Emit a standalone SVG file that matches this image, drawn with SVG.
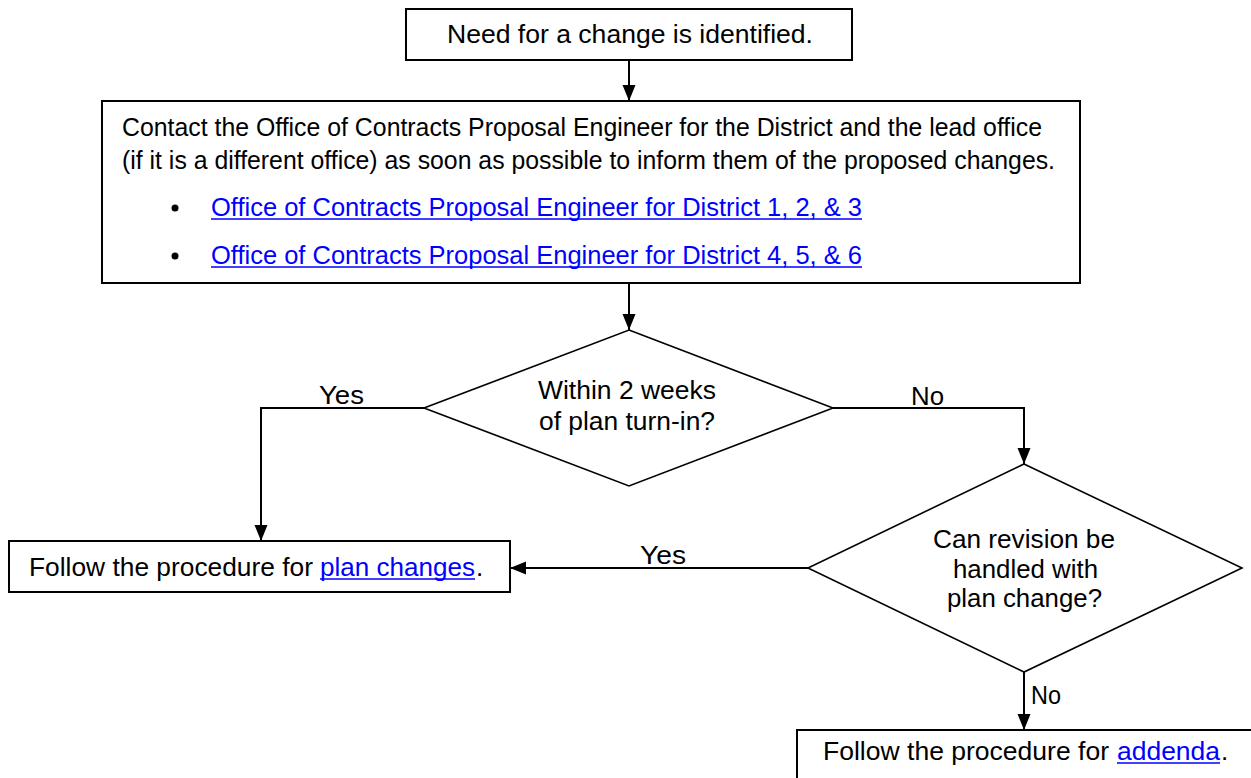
<svg xmlns="http://www.w3.org/2000/svg" width="1251" height="778" viewBox="0 0 1251 778">
<style>
  .box { fill: #fff; stroke: #000; stroke-width: 2; }
  .dia { fill: #fff; stroke: #000; stroke-width: 1.6; }
  .t { font-family: "Liberation Sans", Arial, sans-serif; font-size: 26px; fill: #000; }
  .lk { font-family: "Liberation Sans", Arial, sans-serif; font-size: 26px; fill: #0000FF; }
  .ul { stroke: #0000FF; stroke-width: 1.5; }
  .con { fill: none; stroke: #000; stroke-width: 2; }
</style>
<defs>
  <marker id="arr" markerUnits="userSpaceOnUse" markerWidth="16" markerHeight="14" refX="16" refY="6.5" orient="auto">
    <path d="M0,0 L16,6.5 L0,13 z" fill="#000"/>
  </marker>
</defs>
<rect width="1251" height="778" fill="#fff"/>
<g id="connectors">
  <path class="con" d="M629,60 V101" marker-end="url(#arr)"/>
  <path class="con" d="M629,283 V330" marker-end="url(#arr)"/>
  <path class="con" d="M424,408 H261 V541" marker-end="url(#arr)"/>
  <path class="con" d="M833,408 H1024 V464" marker-end="url(#arr)"/>
  <path class="con" d="M808,568 H510" marker-end="url(#arr)"/>
  <path class="con" d="M1024,672 V730" marker-end="url(#arr)"/>
  <text class="t" x="319" y="404" textLength="45" lengthAdjust="spacingAndGlyphs">Yes</text>
  <text class="t" x="911" y="405" textLength="33" lengthAdjust="spacingAndGlyphs">No</text>
  <text class="t" x="640" y="564" textLength="46" lengthAdjust="spacingAndGlyphs">Yes</text>
  <text class="t" x="1031" y="704" textLength="30" lengthAdjust="spacingAndGlyphs">No</text>
</g>
<g id="start">
  <rect class="box" x="406" y="9" width="446" height="51"/>
  <text class="t" x="447" y="43" textLength="366" lengthAdjust="spacingAndGlyphs">Need for a change is identified.</text>
</g>
<g id="contact">
  <rect class="box" x="102" y="101" width="978" height="182"/>
  <text class="t" x="122" y="136" textLength="920" lengthAdjust="spacingAndGlyphs">Contact the Office of Contracts Proposal Engineer for the District and the lead office</text>
  <text class="t" x="122" y="169" textLength="933" lengthAdjust="spacingAndGlyphs">(if it is a different office) as soon as possible to inform them of the proposed changes.</text>
  <circle cx="175" cy="208" r="3.5" fill="#000"/>
  <text class="lk" x="211" y="216" textLength="651" lengthAdjust="spacingAndGlyphs">Office of Contracts Proposal Engineer for District 1, 2, &amp; 3</text>
  <line class="ul" x1="211" y1="219" x2="862" y2="219"/>
  <circle cx="175" cy="256" r="3.5" fill="#000"/>
  <text class="lk" x="211" y="264" textLength="651" lengthAdjust="spacingAndGlyphs">Office of Contracts Proposal Engineer for District 4, 5, &amp; 6</text>
  <line class="ul" x1="211" y1="267" x2="862" y2="267"/>
</g>
<g id="decision1">
  <polygon class="dia" points="629,330 833,408 629,486 424,408"/>
  <text class="t" x="538" y="399" textLength="178" lengthAdjust="spacingAndGlyphs">Within 2 weeks</text>
  <text class="t" x="539" y="430" textLength="176" lengthAdjust="spacingAndGlyphs">of plan turn-in?</text>
</g>
<g id="decision2">
  <polygon class="dia" points="1024,464 1242,568 1024,672 808,568"/>
  <text class="t" x="933" y="548" textLength="182" lengthAdjust="spacingAndGlyphs">Can revision be</text>
  <text class="t" x="953" y="578" textLength="145" lengthAdjust="spacingAndGlyphs">handled with</text>
  <text class="t" x="947" y="607" textLength="155" lengthAdjust="spacingAndGlyphs">plan change?</text>
</g>
<g id="planChanges">
  <rect class="box" x="9" y="541" width="501" height="51"/>
  <text class="t" x="29" y="576" textLength="284" lengthAdjust="spacingAndGlyphs">Follow the procedure for</text>
  <text class="lk" x="320" y="576" textLength="155" lengthAdjust="spacingAndGlyphs">plan changes</text>
  <line class="ul" x1="320" y1="579" x2="475" y2="579"/>
  <text class="t" x="476" y="576">.</text>
</g>
<g id="addenda">
  <rect class="box" x="797" y="730" width="460" height="60"/>
  <text class="t" x="823" y="760" textLength="286" lengthAdjust="spacingAndGlyphs">Follow the procedure for</text>
  <text class="lk" x="1117" y="760" textLength="103" lengthAdjust="spacingAndGlyphs">addenda</text>
  <line class="ul" x1="1117" y1="763" x2="1220" y2="763"/>
  <text class="t" x="1221" y="760">.</text>
</g>
</svg>
